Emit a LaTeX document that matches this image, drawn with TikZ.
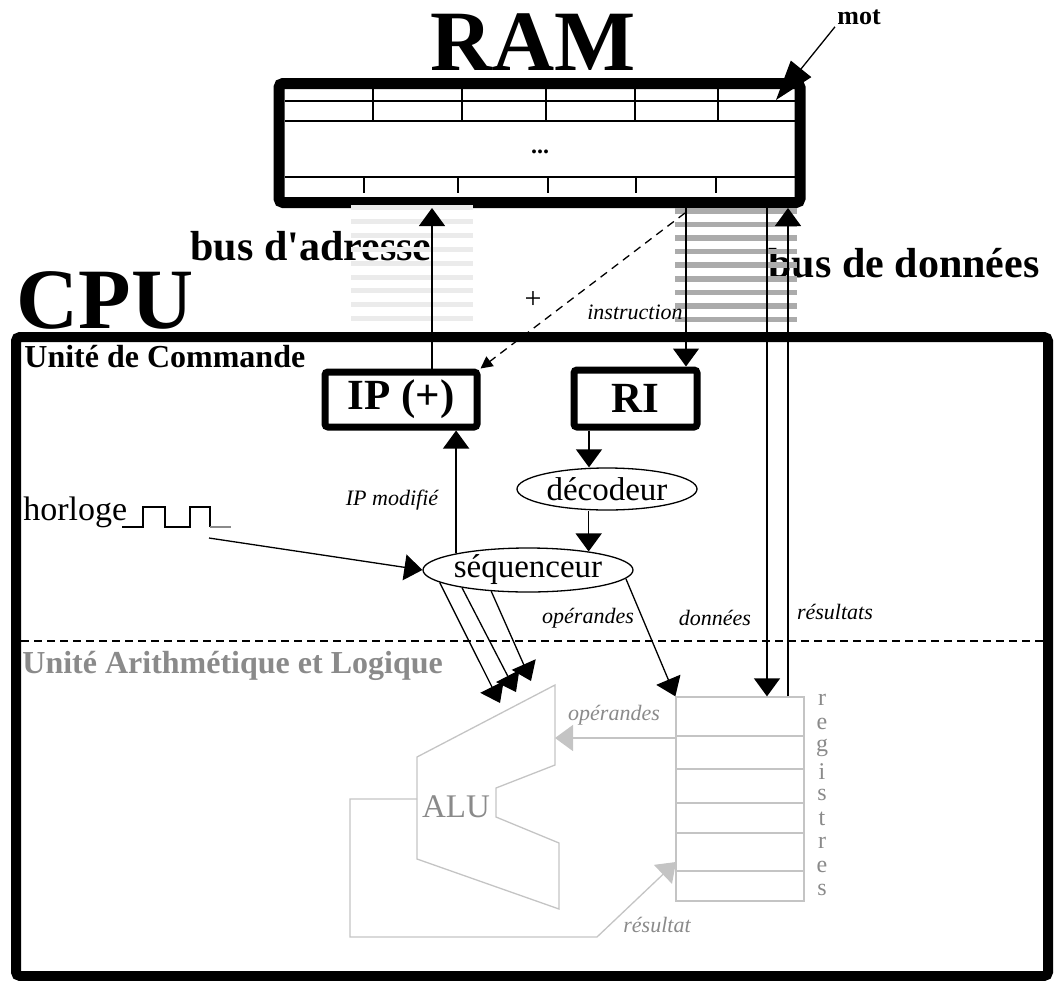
\documentclass[tikz,border=0pt]{standalone}
\usepackage{fontspec}
\setmainfont{Liberation Serif}
\usetikzlibrary{arrows.meta,shapes.geometric}
\definecolor{alugrey}{HTML}{C4C4C4}
\definecolor{textgrey}{HTML}{8A8A8A}
\definecolor{databus}{HTML}{ABABAB}
\definecolor{addrbus}{HTML}{EBEBEB}
\tikzset{
  title/.style={
    font=\bfseries\fontsize{43}{50}\selectfont,
    inner sep=0pt
  },
  bus/.style={
    font=\bfseries\fontsize{21}{25}\selectfont,
    inner sep=0pt
  },
  unit/.style={
    font=\bfseries\fontsize{16}{19}\selectfont,
    anchor=base west,
    inner sep=0pt
  },
  note/.style={
    font=\itshape\fontsize{11}{13}\selectfont,
    inner sep=0pt
  },
  register/.style={
    draw,
    line width=3.5pt,
    rounded corners=1.5pt,
    inner sep=0pt,
    font=\bfseries\fontsize{21.5}{25}\selectfont
  },
  oval/.style={
    ellipse,
    draw,
    line width=0.65pt,
    inner sep=0pt,
    font=\fontsize{16.5}{19}\selectfont
  },
  outline/.style={
    draw,
    rounded corners=2pt
  },
  wire/.style={line width=0.65pt},
  arrow/.style={
    -{Triangle[length=9pt,width=13pt]},
    line width=0.65pt
  },
  greyline/.style={draw=alugrey, line width=0.65pt},
  greyarrow/.style={arrow, draw=alugrey}
}

\begin{document}
\begin{tikzpicture}[x=0.5pt,y=-0.5pt]
  \useasboundingbox (0,0) rectangle (1057,981);

  % RAM and its words
  \node[title] (ramtitle) at (533,42) {RAM};
  \node[outline, line width=5.5pt, minimum width=260.5pt, minimum height=59.5pt] (ram) at (539.5,143) {};
  \foreach \y in {101,121,177} {
    \draw[line width=0.6pt] (285,\y) -- (795,\y);
  }
  \foreach \x in {373,462,546,635,718} {
    \draw[line width=0.6pt] (\x,85) -- (\x,121);
  }
  \foreach \x in {364,458,548,636,716} {
    \draw[line width=0.6pt] (\x,177) -- (\x,193);
  }
  \node[font=\bfseries\fontsize{12}{14}\selectfont] (dots) at (540,152) {...};
  \node[font=\bfseries\fontsize{13}{15}\selectfont, inner sep=1pt] (mot) at (859,17) {mot};
  \coordinate (word) at (776,100);
  \draw[wire, -{Triangle[length=20pt,width=13pt]}] (mot.south west) -- (word);

  % CPU frame and its two units
  \node[title, anchor=west] (cputitle) at (16,300) {CPU};
  \node[outline, line width=5pt, minimum width=516pt, minimum height=319.5pt] (cpu) at (532,656.5) {};
  \node[unit] (uc) at (24,367) {Unité de Commande};
  \node[unit, text=textgrey] (ual) at (22,673) {Unité Arithmétique et Logique};
  \draw[wire, dash pattern=on 4pt off 2.5pt] (21,641) -- (1043,641);

  % Buses
  \node[bus] (abuslabel) at (311,246) {bus d\textquotesingle adresse};
  \node[bus] (dbuslabel) at (904,263) {bus de données};
  \foreach \i in {0,...,8} {
    \fill[addrbus] (351,{205+13.9*\i}) rectangle (473,{210+13.9*\i});
    \fill[databus] (675,{208+13.6*\i}) rectangle (797,{213.5+13.6*\i});
  }

  % Control unit
  \node[register, minimum width=76pt, minimum height=27.5pt] (ip) at (401,399.5) {IP (+)};
  \node[register, minimum width=61.5pt, minimum height=28.5pt] (ri) at (635.5,398.5) {RI};
  \node[oval, minimum width=90pt, minimum height=21pt] (dec) at (607,489) {décodeur};
  \node[oval, minimum width=105pt, minimum height=22pt] (seq) at (528,570) {séquenceur};

  \coordinate (ax) at (432,0);
  \coordinate (dx1) at (686,0);
  \coordinate (dx2) at (767,0);
  \coordinate (dx3) at (788,0);
  \coordinate (rix) at (589,0);
  \coordinate (next) at (685,213);
  \draw[arrow] (ip.north -| ax) -- (ram.south -| ax);
  \draw[arrow] (ram.south -| dx1) -- (ri.north -| dx1);
  \draw[wire, dash pattern=on 4pt off 3pt, -{Triangle[length=6pt,width=6pt]}] (next) -- (ip.north east);
  \draw[arrow] (ri.south -| rix) -- (dec.north -| rix);
  \draw[arrow] (dec.south -| seq.17) -- (seq.17);
  \draw[arrow] (seq.167) -- (seq.167 |- ip.south);

  \node[note] (ipmod) at (392,500) {IP modifié};
  \node[note] (instr) at (635,312) {instruction};
  \node[font=\fontsize{15}{17}\selectfont, inner sep=0pt] (plus) at (533,300) {+};

  % Clock
  \node[font=\fontsize{17}{20}\selectfont, anchor=base west, inner sep=0pt] (clock) at (23,520) {horloge};
  \draw[line width=0.6pt] (122,527) -- (143,527) -- (143,507) -- (165,507) -- (165,527)
    -- (190,527) -- (190,507) -- (210,507) -- (210,527);
  \draw[line width=0.6pt, textgrey] (210,527) -- (231,527);
  \coordinate (tick) at (209,538);
  \draw[arrow] (tick) -- (seq.west);

  % Orders from the sequencer
  \coordinate (op1) at (500,703);
  \coordinate (op2) at (516,692);
  \coordinate (op3) at (531,681);
  \draw[arrow] (seq.188) -- (op1);
  \draw[arrow] (seq.195) -- (op2);
  \draw[arrow] (seq.210) -- (op3);

  \node[note] (opnote) at (588,618) {opérandes};
  \node[note] (datnote) at (715,618) {données};
  \node[note] (resnote) at (835,612) {résultats};

  % Arithmetic and logic unit
  \draw[greyline] (555,685) -- (555,765) -- (496,788) -- (496,817) -- (559,843)
    -- (559,909) -- (417,859) -- (417,757) -- cycle;
  \node[font=\fontsize{16.5}{19}\selectfont, text=textgrey, inner sep=0pt] (alu) at (456,807) {ALU};

  \node[draw=alugrey, line width=0.65pt, minimum width=64pt, minimum height=102pt] (reg) at (740,799) {};
  \foreach \y in {736,769,803,833,871} {
    \draw[greyline] (676,\y) -- (804,\y);
  }
  \foreach \c [count=\i from 0] in {r,e,g,i,s,t,r,e,s} {
    \node[text=textgrey, font=\fontsize{12}{14}\selectfont, inner sep=0pt] (regl-\i) at (822,{700+23.8*\i}) {\c};
  }

  \draw[arrow] (seq.355) -- (reg.north west);
  \draw[arrow] (ram.south -| dx2) -- (reg.north -| dx2);
  \draw[arrow] (reg.north -| dx3) -- (ram.south -| dx3);

  \coordinate (aluin) at (555,738);
  \coordinate (aluout) at (417,799);
  \coordinate (regin) at (676,862);
  \draw[greyarrow] (aluin -| reg.west) -- (aluin);
  \draw[greyarrow] (aluout) -- (350,799) -- (350,937) -- (597,937) -- (regin);
  \node[note, text=textgrey] (opgrey) at (614,715) {opérandes};
  \node[note, text=textgrey] (resgrey) at (657,925) {résultat};
\end{tikzpicture}
\end{document}
